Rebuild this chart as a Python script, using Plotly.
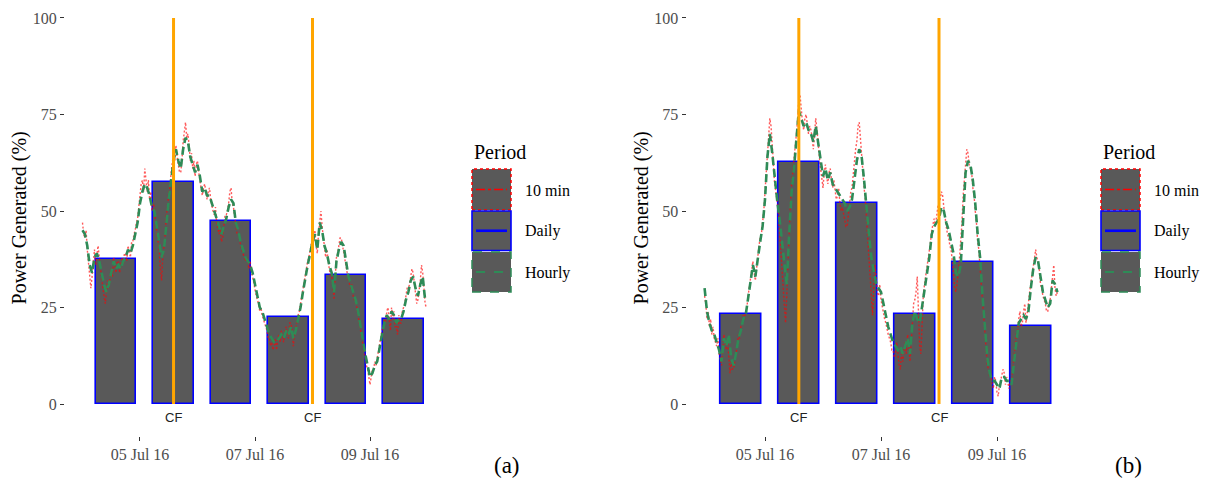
import plotly.graph_objects as go
import pandas as pd

W, H = 1206, 482

# ---------------- data ----------------
# Panel (a): hourly values starting 2016-07-04 00:00
hourly_a = [45, 44, 41, 36, 34, 38, 39, 37, 34, 31, 29, 31, 34, 37, 35, 36, 35, 37, 38, 40, 39, 41, 44, 47,
            52, 55, 57, 56, 54, 51, 50, 46, 42, 38, 40, 47, 53, 58, 63, 66, 63, 61, 66, 69, 68, 64, 62, 60,
            62, 59, 55, 56, 54, 54, 52, 50, 48, 46, 44, 46, 48, 51, 53, 52, 47, 45, 42, 40, 38, 37, 36, 34,
            31, 28, 25, 24, 22, 20, 18, 17, 16, 16, 17, 18, 17, 19, 18, 20, 17, 19, 22, 25, 29, 33, 36, 39,
            42, 44, 40, 47, 45, 41, 39, 36, 34, 29, 37, 40, 42, 41, 37, 33, 31, 29, 27, 24, 20, 17, 13, 10,
            7, 8, 10, 11, 15, 18, 21, 23, 22, 24, 23, 21, 22, 22, 24, 27, 29, 32, 33, 30, 28, 31, 33, 27]
# Panel (a): 10-min series (read every half hour) starting 2016-07-04 00:00
ten_min_a = [47, 44, 43, 45, 40, 37, 34, 30, 33, 37, 40, 36, 39, 41, 38, 35, 33, 30, 28, 26, 29, 32, 30, 33,
             35, 33, 38, 36, 34, 37, 37, 34, 36, 38, 36, 39, 39, 37, 41, 39, 38, 42, 42, 44, 45, 47, 48, 51,
             54, 57, 58, 55, 61, 57, 55, 58, 53, 55, 50, 52, 51, 47, 45, 43, 40, 35, 32, 38, 41, 44, 49, 51,
             55, 56, 60, 62, 65, 63, 67, 64, 62, 60, 60, 63, 68, 70, 73, 69, 70, 67, 63, 65, 61, 63, 59, 62,
             63, 60, 58, 57, 54, 56, 57, 55, 53, 55, 56, 53, 51, 50, 49, 51, 47, 45, 44, 46, 42, 43, 47, 49,
             49, 50, 52, 55, 56, 52, 51, 49, 46, 44, 44, 43, 41, 40, 39, 38, 37, 38, 36, 35, 37, 34, 33, 31,
             30, 28, 27, 26, 24, 25, 23, 22, 21, 20, 19, 17, 17, 15, 16, 14, 15, 17, 14, 17, 18, 16, 19, 17,
             16, 19, 20, 18, 17, 21, 21, 19, 15, 18, 20, 21, 23, 24, 26, 28, 30, 32, 34, 35, 37, 38, 40, 41,
             43, 42, 45, 41, 39, 44, 48, 50, 46, 43, 40, 38, 40, 37, 35, 33, 33, 31, 27, 33, 38, 39, 41, 43,
             43, 41, 40, 38, 36, 34, 32, 31, 30, 31, 28, 27, 26, 25, 23, 21, 19, 18, 16, 14, 12, 10, 9, 7,
             5, 7, 9, 9, 11, 10, 12, 14, 16, 17, 19, 20, 22, 21, 24, 25, 21, 19, 25, 22, 24, 20, 20, 18,
             23, 21, 21, 24, 25, 26, 28, 30, 30, 31, 33, 35, 34, 31, 29, 26, 27, 29, 32, 36, 34, 30, 26, 25]
daily_a = [37.6, 57.4, 47.5, 22.5, 33.5, 22.0]

# Panel (b): hourly values starting 2016-07-03 23:00
hourly_b = [30, 24, 21, 19, 18, 16, 14, 11, 17, 15, 18, 12, 10, 13, 17, 19, 22, 23, 27, 31, 36, 33, 38, 42, 46,
            53, 64, 70, 65, 58, 53, 48, 42, 36, 31, 44, 55, 61, 68, 76, 74, 72, 73, 71, 70, 68, 72, 68, 63,
            59, 61, 58, 60, 57, 56, 55, 54, 53, 52, 50, 51, 53, 58, 63, 66, 64, 58, 50, 44, 38, 34, 31, 30,
            29, 26, 23, 20, 18, 16, 15, 14, 15, 13, 15, 17, 13, 21, 24, 22, 21, 25, 30, 34, 38, 44, 46, 47,
            48, 51, 50, 47, 45, 42, 39, 34, 33, 36, 50, 60, 63, 62, 58, 52, 44, 38, 28, 21, 12, 8, 6, 6,
            5, 4, 7, 7, 6, 6, 5, 11, 16, 21, 22, 23, 22, 24, 30, 35, 38, 37, 33, 29, 27, 25, 26, 32, 31, 29]
# Panel (b): 10-min series (read every half hour) starting 2016-07-03 23:00
ten_min_b = [28, 26, 22, 24, 20, 22, 18, 20, 17, 16, 15, 17, 13, 12, 10, 14, 18, 16, 14, 17, 12, 8, 11, 9,
             9, 11, 12, 15, 18, 17, 20, 21, 23, 22, 24, 25, 28, 30, 32, 34, 37, 34, 32, 35, 39, 41, 43, 44,
             47, 50, 55, 60, 66, 70, 74, 72, 66, 62, 57, 55, 52, 50, 45, 40, 38, 30, 25, 21, 28, 37, 46, 52,
             57, 60, 63, 66, 70, 74, 79, 80, 76, 73, 71, 74, 75, 72, 70, 72, 71, 69, 66, 70, 74, 71, 66, 64,
             61, 58, 56, 60, 62, 59, 57, 60, 61, 58, 56, 58, 55, 53, 54, 56, 52, 50, 51, 49, 48, 46, 46, 49,
             52, 55, 56, 60, 62, 66, 68, 72, 73, 68, 63, 60, 56, 53, 48, 45, 40, 33, 27, 23, 30, 36, 33, 29,
             28, 31, 27, 25, 24, 22, 21, 19, 18, 17, 16, 14, 14, 12, 13, 16, 12, 10, 9, 13, 11, 14, 16, 13,
             18, 15, 11, 16, 23, 26, 27, 29, 33, 24, 15, 13, 22, 28, 31, 33, 35, 37, 40, 42, 45, 47, 48, 46,
             49, 51, 52, 53, 55, 54, 51, 48, 46, 44, 43, 41, 40, 37, 33, 30, 29, 31, 34, 38, 42, 47, 54, 58,
             63, 66, 65, 62, 61, 60, 56, 54, 50, 47, 42, 40, 35, 31, 26, 24, 19, 15, 10, 9, 7, 8, 5, 4,
             7, 6, 3, 2, 5, 6, 8, 9, 8, 5, 7, 5, 4, 6, 6, 9, 13, 15, 18, 19, 22, 24, 20, 21, 24, 26,
             21, 23, 26, 29, 31, 33, 36, 38, 40, 38, 36, 35, 31, 30, 28, 27, 26, 24, 24, 26, 27, 30, 34, 36,
             30, 28, 29]
daily_b = [23.3, 62.8, 52.0, 23.3, 36.9, 20.3]

hourly_a_start = "2016-07-04 00:00"
hourly_b_start = "2016-07-03 23:00"
day_centres = ["2016-07-04 14:00", "2016-07-05 14:00", "2016-07-06 14:00",
               "2016-07-07 14:00", "2016-07-08 14:00", "2016-07-09 14:00"]
cf_times = ["2016-07-05 14:00", "2016-07-08 00:00"]
cf_label = "CF"
tick_dates = ["2016-07-05", "2016-07-07", "2016-07-09"]
tick_labels = ["05 Jul 16", "07 Jul 16", "09 Jul 16"]
y_ticks = [0, 25, 50, 75, 100]
legend_title = "Period"
legend_labels = ["10 min", "Daily", "Hourly"]
y_title = "Power Generated (%)"
panel_tags = ["(a)", "(b)"]

# ---------------- styling ----------------
BAR_FILL = "#595959"
BLUE = "#0000FF"
GREEN = "#2E8B57"
RED = "rgba(255,0,0,0.65)"
RED_SOLID = "#FF0000"
ORANGE = "#FFA500"
TICK_GREY = "#4D4D4D"
SERIF = "Liberation Serif, Times New Roman, serif"
SANS = "Liberation Sans, Arial, sans-serif"

def fx(px):
    return px / W

def fy(py):
    return 1 - py / H

panels = [
    dict(hourly=hourly_a, ten=ten_min_a, daily=daily_a, start=hourly_a_start,
         xdom=[65, 445], xrange=["2016-07-03 16:42", "2016-07-10 07:18"], leg_dx=0,
         tag_x=507),
    dict(hourly=hourly_b, ten=ten_min_b, daily=daily_b, start=hourly_b_start,
         xdom=[686.5, 1075.5], xrange=["2016-07-03 15:31", "2016-07-10 08:29"], leg_dx=629,
         tag_x=1128),
]

fig = go.Figure()
annotations = []
shapes = []
layout_axes = {}

for i, p in enumerate(panels):
    xa = "x" if i == 0 else "x2"
    ya = "y" if i == 0 else "y2"
    t_hour = pd.date_range(p["start"], periods=len(p["hourly"]), freq="60min")
    t_ten = pd.date_range(p["start"], periods=len(p["ten"]), freq="30min")

    fig.add_trace(go.Bar(x=day_centres, y=p["daily"], width=0.7 * 86400000,
                         marker=dict(color=BAR_FILL, line=dict(color=BLUE, width=1.6)),
                         name="Daily", showlegend=False, xaxis=xa, yaxis=ya))
    fig.add_trace(go.Scatter(x=t_ten, y=p["ten"], mode="lines",
                             line=dict(color=RED, width=1.4, dash="2px,2px"),
                             name="10 min", showlegend=False, xaxis=xa, yaxis=ya))
    fig.add_trace(go.Scatter(x=t_hour, y=p["hourly"], mode="lines",
                             line=dict(color=GREEN, width=2.6, dash="8px,4px"),
                             name="Hourly", showlegend=False, xaxis=xa, yaxis=ya))
    cf_x, cf_y = [], []
    for t in cf_times:
        cf_x += [t, t, None]
        cf_y += [0, 100, None]
    fig.add_trace(go.Scatter(x=cf_x, y=cf_y, mode="lines",
                             line=dict(color=ORANGE, width=3),
                             name="CF", showlegend=False, xaxis=xa, yaxis=ya))
    for t in cf_times:
        annotations.append(dict(x=t, y=-3.4, xref=xa, yref=ya, text=cf_label,
                                showarrow=False, font=dict(family=SANS, size=13, color="#222222"),
                                xanchor="center", yanchor="middle"))

    xkey = "xaxis" if i == 0 else "xaxis2"
    ykey = "yaxis" if i == 0 else "yaxis2"
    layout_axes[xkey] = dict(domain=[fx(p["xdom"][0]), fx(p["xdom"][1])], type="date",
                             range=p["xrange"], tickvals=tick_dates, ticktext=tick_labels,
                             ticks="outside", ticklen=4, tickcolor="#333333", tickwidth=1,
                             showgrid=False, zeroline=False, showline=False,
                             tickfont=dict(family=SERIF, size=16, color=TICK_GREY),
                             anchor=ya, automargin=False)
    layout_axes[ykey] = dict(domain=[fy(435.7), 1], range=[-8.21, 104.66],
                             tickvals=y_ticks, ticks="outside", ticklen=4, tickcolor="#333333",
                             tickwidth=1, showgrid=False, zeroline=False, showline=False,
                             tickfont=dict(family=SERIF, size=16, color=TICK_GREY),
                             title=dict(text=y_title, font=dict(family=SERIF, size=20, color="#000000"),
                                        standoff=0),
                             anchor=xa, automargin=False)

    # custom legend
    dx = p["leg_dx"]
    annotations.append(dict(x=fx(472 + dx), y=fy(152), xref="paper", yref="paper",
                            text=legend_title, showarrow=False, xanchor="left", yanchor="middle",
                            font=dict(family=SERIF, size=20, color="#000000")))
    boxes = [(169, 210), (211, 250.5), (252, 292)]
    key_styles = [dict(color=RED_SOLID, width=1.5, dash="dot"),
                  dict(color=BLUE, width=1.6, dash="solid"),
                  dict(color=GREEN, width=1.5, dash="dash")]
    inner_styles = [dict(color=RED_SOLID, width=1.6, dash="dashdot"),
                    dict(color=BLUE, width=2.6, dash="solid"),
                    dict(color=GREEN, width=2.2, dash="dash")]
    label_y = [191, 231, 273]
    for k in range(3):
        y0, y1 = boxes[k]
        shapes.append(dict(type="rect", xref="paper", yref="paper",
                           x0=fx(472 + dx), x1=fx(511 + dx), y0=fy(y1), y1=fy(y0),
                           fillcolor=BAR_FILL, line=key_styles[k], layer="above"))
        ym = (y0 + y1) / 2
        shapes.append(dict(type="line", xref="paper", yref="paper",
                           x0=fx(476 + dx), x1=fx(507 + dx), y0=fy(ym), y1=fy(ym),
                           line=inner_styles[k], layer="above"))
        annotations.append(dict(x=fx(523 + dx), y=fy(label_y[k]), xref="paper", yref="paper",
                                text=legend_labels[k], showarrow=False, xanchor="left",
                                yanchor="middle",
                                font=dict(family=SERIF, size=16, color="#000000")))
    annotations.append(dict(x=fx(p["tag_x"]), y=fy(465), xref="paper", yref="paper",
                            text=panel_tags[i], showarrow=False, xanchor="center", yanchor="middle",
                            font=dict(family=SERIF, size=23, color="#000000")))

fig.update_layout(
    width=W, height=H,
    margin=dict(l=0, r=0, t=0, b=0),
    paper_bgcolor="white", plot_bgcolor="white",
    showlegend=False, bargap=0,
    annotations=annotations, shapes=shapes,
    **layout_axes,
)

fig.write_html(
    "out.html",
    config={"displayModeBar": False},
    post_script="document.body.style.margin='0';document.body.style.padding='0';"
                "document.documentElement.style.overflow='hidden';",
)
